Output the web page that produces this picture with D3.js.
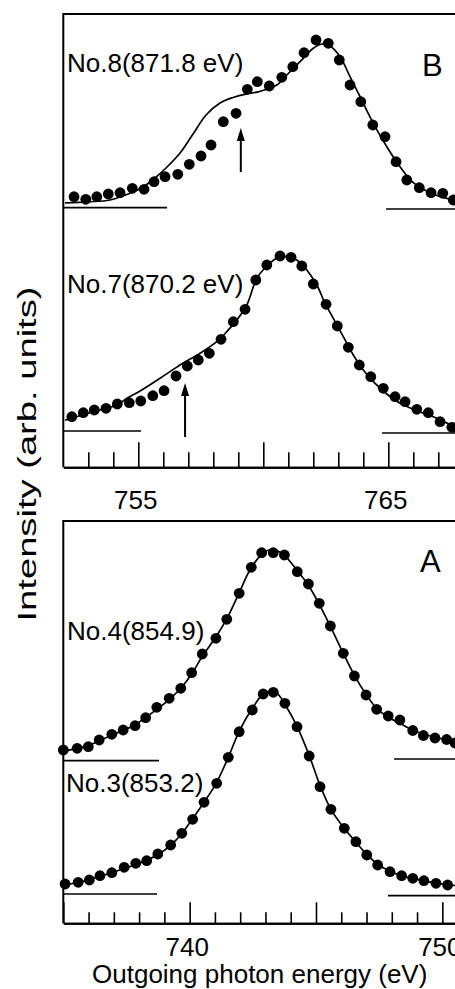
<!DOCTYPE html>
<html><head><meta charset="utf-8">
<script src="https://cdn.jsdelivr.net/npm/d3@7"></script>
<style>
body{margin:0;background:#fff}
svg{display:block}
text{font-family:"Liberation Sans",Arial,Helvetica,sans-serif;fill:#000}
</style></head><body>
<svg id="c" width="455" height="989"></svg>
<script>
// ---------- DATA (energy in eV, intensity in arb. units incl. vertical offset) ----------
// Panel B, No.8 (871.8 eV) — experimental points
const no8E = [752.43,752.90,753.34,753.80,754.27,754.76,755.23,755.63,756.07,756.58,757.04,757.51,757.91,758.40,758.91,759.36,759.76,760.24,760.74,761.18,761.63,762.11,762.60,763.04,763.47,763.90,764.38,764.87,765.31,765.74,766.24,766.71,767.18,767.60];
const no8I = [27.06,26.80,27.06,27.33,27.46,27.90,27.80,28.56,29.06,29.30,30.30,31.13,32.23,34.56,35.40,37.80,38.56,38.13,39.00,40.06,41.46,42.73,42.40,40.73,38.23,36.56,34.23,33.06,30.56,28.73,27.96,27.46,27.40,26.73];
// No.8 calculated curve
const no8CurveE = [752.07,753.00,753.87,754.67,755.19,755.67,756.15,756.67,757.19,757.71,758.27,758.79,759.34,759.80,760.14,760.54,760.94,761.47,762.00,762.34,762.67,763.07,763.47,763.87,764.40,764.94,765.47,766.00,766.67,767.34,768.00];
const no8CurveI = [26.45,26.55,26.73,27.40,28.03,28.93,30.03,31.43,33.33,35.23,36.43,36.98,37.35,37.55,37.80,38.23,39.23,40.56,41.90,42.33,42.13,41.06,39.06,37.06,34.40,32.06,30.06,28.46,27.46,26.90,26.65];

// Panel B, No.7 (870.2 eV)
const no7E = [752.34,752.80,753.24,753.71,754.16,754.64,755.10,755.58,756.03,756.51,756.96,757.40,757.84,758.31,758.80,759.27,759.70,760.14,760.67,761.11,761.54,762.00,762.51,762.96,763.40,763.84,764.30,764.80,765.27,765.67,766.14,766.60,767.07,767.54];
const no7I = [5.06,5.46,5.73,5.90,6.33,6.46,6.63,7.16,7.66,9.13,10.13,10.73,11.40,12.80,14.56,15.80,18.73,20.23,21.13,21.00,20.13,18.33,16.30,14.13,12.00,10.23,9.06,7.90,7.06,6.56,5.80,5.46,4.56,4.00];
const no7CurveE = [752.07,753.20,754.14,754.54,755.07,755.87,756.67,757.47,758.14,758.54,758.94,759.34,759.74,760.14,760.54,760.94,761.34,761.74,762.14,762.47,762.80,763.20,763.60,764.00,764.40,764.94,765.47,766.14,766.80,767.67,768.00];
const no7CurveI = [4.70,5.56,6.23,6.90,7.63,8.90,10.23,11.40,12.56,13.56,14.73,16.23,18.90,20.13,20.90,21.06,20.73,19.73,18.23,16.40,14.90,13.06,11.23,9.73,8.56,7.33,6.40,5.66,5.06,4.06,3.90];

// Panel A, No.4 (854.9)
const no4E = [735.00,735.55,735.99,736.42,736.92,737.37,737.84,738.26,738.70,739.19,739.65,740.08,740.50,741.04,741.47,741.96,742.44,742.85,743.31,743.75,744.26,744.70,745.13,745.57,746.08,746.52,746.98,747.40,747.86,748.32,748.83,749.25,749.71,750.17,750.50];
const no4I = [17.33,17.50,17.66,18.33,18.90,19.33,19.76,20.56,21.60,22.50,23.50,25.06,26.93,28.50,30.40,33.00,35.60,37.06,37.06,36.83,35.16,33.93,32.00,29.73,27.00,24.73,22.83,21.40,20.73,20.33,19.28,18.78,18.53,18.38,18.03];
const no4CurveE = [735.00,736.00,736.90,737.80,738.70,739.20,739.65,740.10,740.50,741.00,741.50,741.95,742.40,742.85,743.10,743.40,743.75,744.25,744.70,745.13,745.57,746.08,746.52,746.98,747.40,747.86,748.32,748.83,749.70,751.00];
const no4CurveI = [17.20,17.80,18.80,19.80,21.40,22.40,23.50,25.00,26.70,28.50,30.60,33.00,35.40,36.90,37.30,37.30,36.80,35.30,33.80,31.90,29.70,27.00,24.80,22.90,21.50,20.60,20.00,19.30,18.60,18.00];

// Panel A, No.3 (853.2)
const no3E = [735.07,735.59,736.03,736.45,736.92,737.41,737.87,738.30,738.74,739.25,739.69,740.12,740.57,741.07,741.53,741.96,742.48,742.91,743.31,743.77,744.25,744.73,745.16,745.59,746.12,746.58,747.01,747.44,747.93,748.39,748.83,749.27,749.75,750.21];
const no3I = [3.93,4.10,4.33,4.76,5.06,5.60,6.00,6.26,6.93,7.83,9.00,10.40,12.10,14.00,16.60,19.16,21.33,22.93,23.10,22.00,19.66,16.73,13.66,11.40,9.50,8.16,6.83,5.83,5.16,4.76,4.50,4.26,4.00,3.83];
const no3CurveE = [735.00,736.00,736.90,737.90,738.70,739.25,739.70,740.10,740.57,741.07,741.53,741.96,742.48,742.90,743.20,743.50,743.77,744.25,744.73,745.16,745.59,746.12,746.58,747.01,747.44,747.93,748.39,749.27,750.21,751.00];
const no3CurveI = [3.80,4.35,5.05,5.90,6.80,7.80,9.00,10.40,12.10,14.10,16.60,19.20,21.50,22.90,23.20,22.90,21.90,19.70,16.80,13.80,11.40,9.50,8.10,6.90,5.90,5.20,4.75,4.25,3.85,3.70];

// Background (baseline) levels: [left end E, left level, right start E, right level]
const no8Base = [756.15, 25.96, 764.91, 25.83];
const no7Base = [755.11, 3.63, 764.75, 3.43];
const no4Base = [738.79, 16.26, 748.09, 16.43];
const no3Base = [738.71, 2.93, 747.85, 2.76];

// Arrows: [energy, from intensity, to intensity]
const arrow8 = [759.10, 29.53, 33.93];
const arrow7 = [756.87, 3.03, 8.43];

// Axis domains and tick labels
const topDomainE = [752, 768];
const botDomainE = [735, 751];
const topDomainI = [0, 45.33];
const botDomainI = [0, 40.23];
const topTickLabels = [755, 765];
const botTickLabels = [740, 750];

const labels = {
  no8: "No.8(871.8 eV)", no7: "No.7(870.2 eV)",
  no4: "No.4(854.9)", no3: "No.3(853.2)",
  B: "B", A: "A",
  xTitle: "Outgoing photon energy (eV)",
  yTitle: "Intensity (arb. units)"
};

// ---------- DRAWING ----------
const svg = d3.select("#c");
svg.append("rect").attr("width",455).attr("height",989).attr("fill","#fff");

function panel(cfg){
  const x = d3.scaleLinear().domain(cfg.domE).range(cfg.rangeX);
  const y = d3.scaleLinear().domain(cfg.domI).range(cfg.rangeY);
  const g = svg.append("g");

  g.append("path")
    .attr("d", `M${x.range()[1]},${y.range()[1]}H${x.range()[0]}V${y.range()[0]}`)
    .attr("fill","none").attr("stroke","#000").attr("stroke-width",2);

  const minorVals = d3.range(Math.ceil(cfg.domE[0])+1, cfg.domE[1]+0.5, 1).filter(v=>v%5!==0);
  const majorVals = d3.range(Math.ceil(cfg.domE[0]/5)*5, cfg.domE[1]+0.5, 5);
  const axMinor = d3.axisBottom(x).tickValues(minorVals).tickSizeInner(-cfg.minorLen).tickSizeOuter(0).tickFormat("");
  const axMajor = d3.axisBottom(x).tickValues(majorVals).tickSizeInner(-cfg.majorLen).tickSizeOuter(0)
      .tickPadding(cfg.labelPad).tickFormat(d => cfg.tickLabels.includes(d) ? d : "");
  const gm = g.append("g").attr("transform",`translate(0,${y.range()[0]})`).call(axMinor);
  const gM = g.append("g").attr("transform",`translate(0,${y.range()[0]})`).call(axMajor);
  [gm,gM].forEach(a=>{
    a.select(".domain").attr("stroke","#000").attr("stroke-width",2);
    a.selectAll(".tick line").attr("stroke","#000").attr("stroke-width",1.6);
    a.selectAll(".tick text").attr("font-size",26).attr("font-family","Liberation Sans, Arial, sans-serif").attr("fill","#000")
      .attr("dx", -3);
  });

  const line = d3.line().x(d=>x(d[0])).y(d=>y(d[1])).curve(d3.curveCatmullRom.alpha(0.5));

  cfg.spectra.forEach(s=>{
    g.append("line").attr("x1",x(cfg.domE[0])).attr("x2",x(s.base[0]))
      .attr("y1",y(s.base[1])).attr("y2",y(s.base[1])).attr("stroke","#000").attr("stroke-width",1.7);
    g.append("line").attr("x1",x(s.base[2])).attr("x2",x(cfg.domE[1]))
      .attr("y1",y(s.base[3])).attr("y2",y(s.base[3])).attr("stroke","#000").attr("stroke-width",1.7);
    const cpts = s.cE.map((e,i)=>[e,s.cI[i]]);
    g.append("path").attr("d",line(cpts)).attr("fill","none").attr("stroke","#000").attr("stroke-width",1.7);
    g.selectAll(null).data(s.E.map((e,i)=>[e,s.I[i]])).join("circle")
      .attr("cx",d=>x(d[0])).attr("cy",d=>y(d[1])).attr("r",5.4).attr("fill","#000");
    if(s.arrow){
      const ax = x(s.arrow[0]), y0 = y(s.arrow[1]), y1 = y(s.arrow[2]);
      g.append("line").attr("x1",ax).attr("x2",ax).attr("y1",y0).attr("y2",y1+10)
        .attr("stroke","#000").attr("stroke-width",2);
      g.append("path").attr("d",`M${ax},${y1}L${ax-4},${y1+13}L${ax+4},${y1+13}Z`).attr("fill","#000");
    }
    g.append("text").attr("x",s.lx).attr("y",s.ly).attr("font-size",26).text(s.label);
  });

  g.append("text").attr("x",cfg.letterX).attr("y",cfg.letterY).attr("font-size",31).text(cfg.letter);
  return {x,y};
}

panel({
  domE: topDomainE, rangeX: [63.3, 463.3],
  domI: topDomainI, rangeY: [467.3, 14],
  minorLen: 15, majorLen: 25, labelPad: 23, tickLabels: topTickLabels,
  letter: labels.B, letterX: 422, letterY: 76,
  spectra: [
    {E:no8E, I:no8I, cE:no8CurveE, cI:no8CurveI, base:no8Base, arrow:arrow8, label:labels.no8, lx:67, ly:72},
    {E:no7E, I:no7I, cE:no7CurveE, cI:no7CurveI, base:no7Base, arrow:arrow7, label:labels.no7, lx:67, ly:293}
  ]
});

panel({
  domE: botDomainE, rangeX: [63.3, 467.6],
  domI: botDomainI, rangeY: [923.3, 521],
  minorLen: 11, majorLen: 21, labelPad: 14, tickLabels: botTickLabels,
  letter: labels.A, letterX: 420, letterY: 572,
  spectra: [
    {E:no4E, I:no4I, cE:no4CurveE, cI:no4CurveI, base:no4Base, label:labels.no4, lx:67, ly:640},
    {E:no3E, I:no3I, cE:no3CurveE, cI:no3CurveI, base:no3Base, label:labels.no3, lx:66, ly:792}
  ]
});

svg.append("text").attr("x",259.7).attr("y",983).attr("text-anchor","middle")
  .attr("font-size",26).text(labels.xTitle);
svg.append("text").attr("transform","translate(36,454) rotate(-90)").attr("text-anchor","middle")
  .attr("font-size",25).attr("textLength",335).attr("lengthAdjust","spacingAndGlyphs").text(labels.yTitle);
</script>
</body></html>
